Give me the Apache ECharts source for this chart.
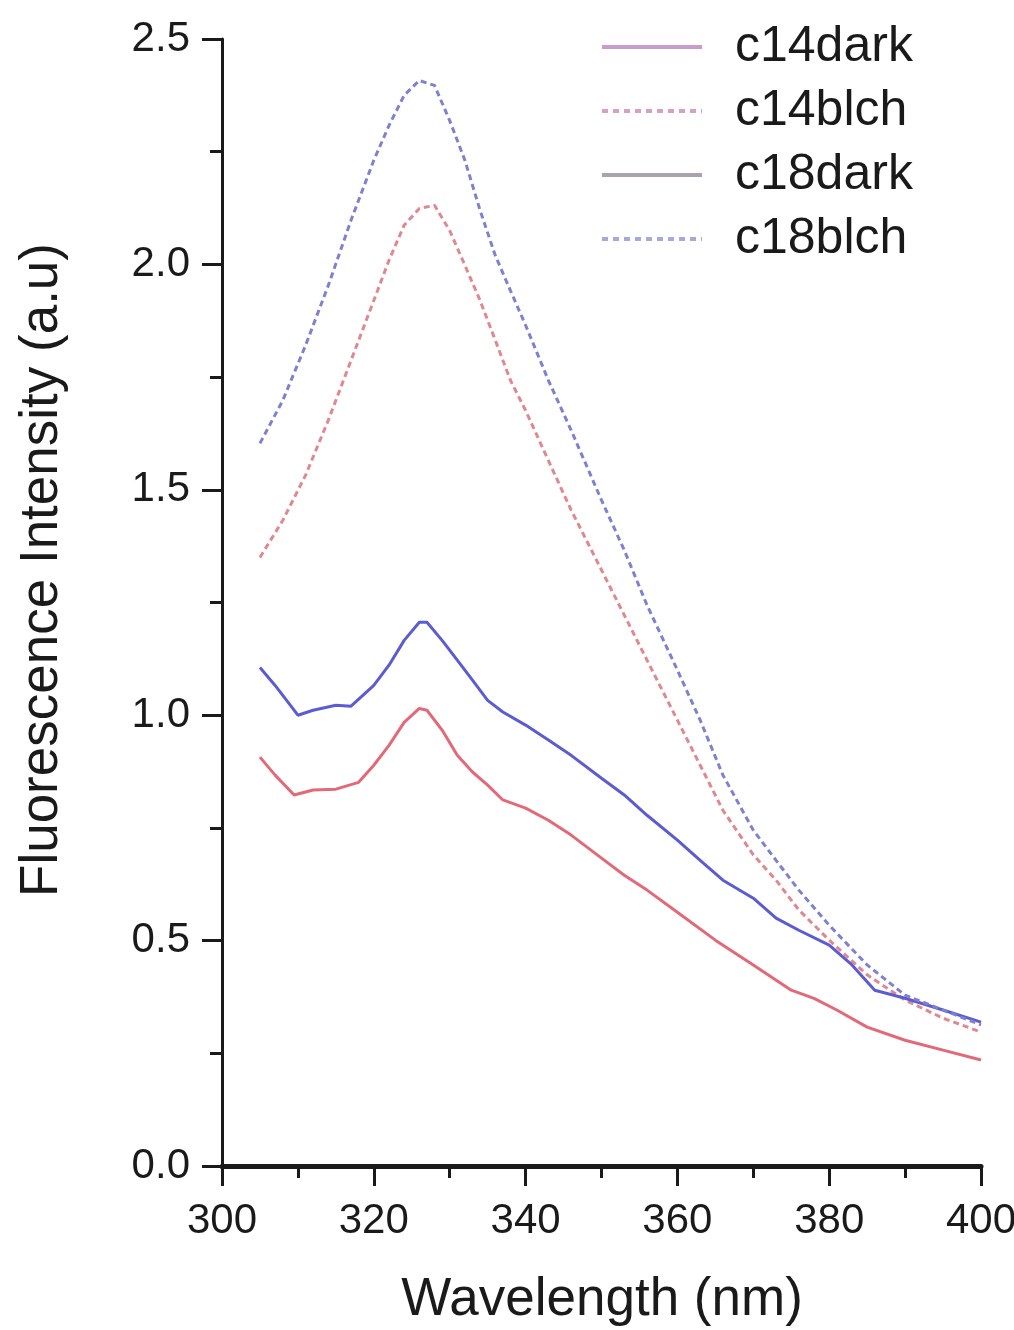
<!DOCTYPE html>
<html>
<head>
<meta charset="utf-8">
<script src="https://cdn.jsdelivr.net/npm/echarts@6/dist/echarts.min.js"></script>
<style>
  html, body { margin: 0; padding: 0; background: #fff; }
  #chart { width: 1014px; height: 1330px; }
</style>
</head>
<body>
<div id="chart"></div>
<script>
// Emission spectra: fluorescence intensity vs wavelength
const wlDark = [305, 307, 309.5, 312, 315, 318, 320, 322, 324, 326, 327, 329, 331, 333, 335, 337, 340, 343, 346, 350, 353, 356, 360, 365, 370, 375, 378, 381, 385, 390, 395, 400];
const c14dark = [0.907, 0.867, 0.823, 0.834, 0.836, 0.851, 0.889, 0.933, 0.984, 1.015, 1.011, 0.967, 0.911, 0.874, 0.845, 0.812, 0.794, 0.767, 0.734, 0.683, 0.645, 0.612, 0.563, 0.501, 0.446, 0.39, 0.372, 0.346, 0.308, 0.279, 0.257, 0.235];

const wlC18dark = [305, 307, 310, 312, 315, 317, 320, 322, 324, 326, 327, 329, 331, 333, 335, 337, 340, 343, 346, 350, 353, 356, 360, 363, 366, 370, 373, 376, 380, 383, 386, 390, 395, 400];
const c18dark = [1.106, 1.066, 1.0, 1.011, 1.022, 1.02, 1.066, 1.111, 1.166, 1.206, 1.206, 1.166, 1.122, 1.078, 1.033, 1.007, 0.978, 0.945, 0.911, 0.86, 0.823, 0.778, 0.723, 0.678, 0.634, 0.594, 0.55, 0.523, 0.49, 0.446, 0.39, 0.372, 0.346, 0.319];

const wlBlch = [305, 308, 311, 314, 317, 320, 322, 324, 326, 328, 330, 332, 334, 336, 338, 340, 343, 346, 350, 353, 356, 360, 363, 366, 370, 373, 376, 380, 385, 390, 395, 400];
const c14blch = [1.35, 1.432, 1.532, 1.654, 1.787, 1.92, 2.009, 2.087, 2.124, 2.131, 2.075, 1.998, 1.92, 1.832, 1.743, 1.676, 1.565, 1.455, 1.322, 1.222, 1.122, 0.989, 0.889, 0.789, 0.69, 0.634, 0.568, 0.501, 0.424, 0.368, 0.328, 0.297];
const c18blch = [1.603, 1.698, 1.82, 1.953, 2.098, 2.231, 2.308, 2.375, 2.408, 2.397, 2.319, 2.231, 2.12, 2.02, 1.942, 1.865, 1.743, 1.632, 1.477, 1.366, 1.244, 1.1, 0.989, 0.867, 0.745, 0.678, 0.612, 0.534, 0.446, 0.379, 0.346, 0.313];

const seriesNames = ['c14dark', 'c14blch', 'c18dark', 'c18blch'];
const xTitle = 'Wavelength (nm)';
const yTitle = 'Fluorescence Intensity (a.u)';

const pair = (xs, ys) => xs.map((x, i) => [x, ys[i]]);

const FONT = '"Liberation Sans", Arial, sans-serif';
const chart = echarts.init(document.getElementById('chart'), null, { renderer: 'canvas' });

const lineSeries = (name, data, color, dashed) => ({
  name,
  type: 'line',
  data,
  symbol: 'none',
  smooth: false,
  lineStyle: { color, width: 3, type: dashed ? [6, 4] : 'solid' },
  itemStyle: { color },
  emphasis: { disabled: true }
});

chart.setOption({
  animation: false,
  backgroundColor: '#ffffff',
  grid: { left: 222, right: 33, top: 39, bottom: 164, outerBoundsMode: 'none', containLabel: false },
  legend: {
    orient: 'vertical',
    left: 600,
    top: 22,
    padding: 0,
    itemWidth: 100,
    itemHeight: 10,
    itemGap: 14,
    itemStyle: { opacity: 0 },
    textStyle: { fontFamily: FONT, fontSize: 50, color: '#1a1a1a', lineHeight: 50, padding: [0, 0, 0, 28] },
    data: [
      { name: seriesNames[0], lineStyle: { color: '#c99ccb', width: 4, type: 'solid' } },
      { name: seriesNames[1], lineStyle: { color: '#d8a0c0', width: 4, type: [6, 5] } },
      { name: seriesNames[2], lineStyle: { color: '#aaa3ae', width: 4, type: 'solid' } },
      { name: seriesNames[3], lineStyle: { color: '#a8a8e0', width: 4, type: [6, 5] } }
    ]
  },
  xAxis: {
    type: 'value',
    min: 300,
    max: 400,
    interval: 20,
    axisLine: { show: true, onZero: false, lineStyle: { color: '#1a1a1a', width: 5 } },
    axisTick: { show: true, inside: false, length: 20, lineStyle: { color: '#1a1a1a', width: 3 } },
    minorTick: { show: true, splitNumber: 2, length: 12, lineStyle: { color: '#1a1a1a', width: 3 } },
    splitLine: { show: false },
    axisLabel: { fontFamily: FONT, fontSize: 42, color: '#1a1a1a', margin: 34 }
  },
  yAxis: {
    type: 'value',
    min: 0,
    max: 2.5,
    interval: 0.5,
    axisLine: { show: true, onZero: false, lineStyle: { color: '#1a1a1a', width: 3 } },
    axisTick: { show: true, inside: false, length: 20, lineStyle: { color: '#1a1a1a', width: 3 } },
    minorTick: { show: true, splitNumber: 2, length: 12, lineStyle: { color: '#1a1a1a', width: 3 } },
    splitLine: { show: false },
    axisLabel: { fontFamily: FONT, fontSize: 42, color: '#1a1a1a', margin: 32, formatter: v => v.toFixed(1) }
  },
  graphic: [
    {
      type: 'text',
      x: 602, y: 1300,
      style: { text: xTitle, font: '53px ' + FONT, fill: '#1a1a1a', textAlign: 'center', textVerticalAlign: 'middle' }
    },
    {
      type: 'text',
      x: 42, y: 570,
      rotation: Math.PI / 2,
      style: { text: yTitle, font: '53px ' + FONT, fill: '#1a1a1a', textAlign: 'center', textVerticalAlign: 'middle' }
    }
  ],
  series: [
    lineSeries(seriesNames[0], pair(wlDark, c14dark), '#e26a78', false),
    lineSeries(seriesNames[1], pair(wlBlch, c14blch), '#e08890', true),
    lineSeries(seriesNames[2], pair(wlC18dark, c18dark), '#5c5cd2', false),
    lineSeries(seriesNames[3], pair(wlBlch, c18blch), '#7f80d0', true)
  ]
});
</script>
</body>
</html>
